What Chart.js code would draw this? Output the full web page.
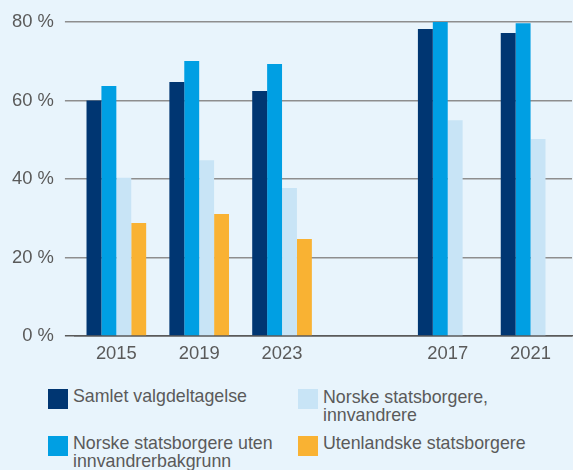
<!DOCTYPE html>
<html>
<head>
<meta charset="utf-8">
<script src="https://cdn.jsdelivr.net/npm/chart.js@4"></script>
<style>
  html, body { margin: 0; padding: 0; background: #e8f4fc; }
  #wrap { position: relative; width: 573px; height: 470px; background: #e8f4fc; overflow: hidden; font-family: "Liberation Sans", Arial, sans-serif; }
  #chartBox { position: absolute; left: 0; top: 0; width: 573px; height: 372px; }
  .lg { position: absolute; color: #5a5a5a; font-size: 17.8px; line-height: 18px; }
  .sw { position: absolute; width: 20px; height: 20px; }
</style>
</head>
<body>
<div id="wrap">
  <div id="chartBox"><canvas id="c"></canvas></div>
  <div id="legend"></div>
</div>
<script>
const categories = ['2015', '2019', '2023', '', '2017', '2021'];
const seriesNames = ['Samlet valgdeltagelse', 'Norske statsborgere uten innvandrerbakgrunn', 'Norske statsborgere, innvandrere', 'Utenlandske statsborgere'];
const samlet = [60.0, 64.7, 62.4, null, 78.2, 77.2];
const utenBakgrunn = [63.7, 70.1, 69.3, null, 80.0, 79.7];
const innvandrere = [40.3, 44.8, 37.7, null, 55.0, 50.2];
const utenlandske = [28.8, 31.1, 24.7, null, null, null];
const yTicks = [0, 20, 40, 60, 80];
const colors = ['#003672', '#009fe3', '#c8e4f6', '#f9b233'];

const values = [samlet, utenBakgrunn, innvandrere, utenlandske];

new Chart(document.getElementById('c'), {
  type: 'bar',
  data: {
    labels: categories,
    datasets: values.map((v, i) => ({
      label: seriesNames[i],
      data: v,
      backgroundColor: colors[i],
      borderWidth: 0,
      categoryPercentage: 0.72,
      barPercentage: 1.0
    }))
  },
  options: {
    responsive: true,
    maintainAspectRatio: false,
    animation: false,
    layout: { padding: { left: 1, right: 1, top: 14, bottom: 0 } },
    plugins: { legend: { display: false }, tooltip: { enabled: false } },
    scales: {
      x: {
        grid: { display: false, drawTicks: false },
        border: { display: true, color: '#5a5a5a', width: 1.5 },
        ticks: { color: '#5a5a5a', font: { family: 'Liberation Sans', size: 18.4 }, padding: 7, maxRotation: 0, autoSkip: false }
      },
      y: {
        min: 0,
        max: 80,
        afterBuildTicks: (axis) => { axis.ticks = yTicks.map(v => ({ value: v })); },
        grid: { color: (ctx) => ctx.tick && ctx.tick.value === 0 ? '#5a5a5a' : '#8e8e8e', lineWidth: 1.5, tickLength: 10, drawTicks: true },
        border: { display: false },
        ticks: { color: '#5a5a5a', font: { family: 'Liberation Sans', size: 18.4 }, padding: 11, callback: (v) => v + ' %' }
      }
    }
  }
});

const legendItems = [
  { i: 0, sx: 48, sy: 389, tx: 73, ty: 387, text: 'Samlet valgdeltagelse' },
  { i: 1, sx: 48, sy: 436, tx: 73, ty: 434, text: 'Norske statsborgere uten<br>innvandrerbakgrunn' },
  { i: 2, sx: 298, sy: 389, tx: 323, ty: 388, text: 'Norske statsborgere,<br>innvandrere' },
  { i: 3, sx: 298, sy: 436, tx: 323, ty: 434, text: 'Utenlandske statsborgere' }
];
const lg = document.getElementById('legend');
legendItems.forEach(it => {
  const s = document.createElement('div');
  s.className = 'sw';
  s.style.left = it.sx + 'px'; s.style.top = it.sy + 'px';
  s.style.background = colors[it.i];
  lg.appendChild(s);
  const t = document.createElement('div');
  t.className = 'lg';
  t.style.left = it.tx + 'px'; t.style.top = it.ty + 'px';
  t.innerHTML = it.text;
  lg.appendChild(t);
});
</script>
</body>
</html>
